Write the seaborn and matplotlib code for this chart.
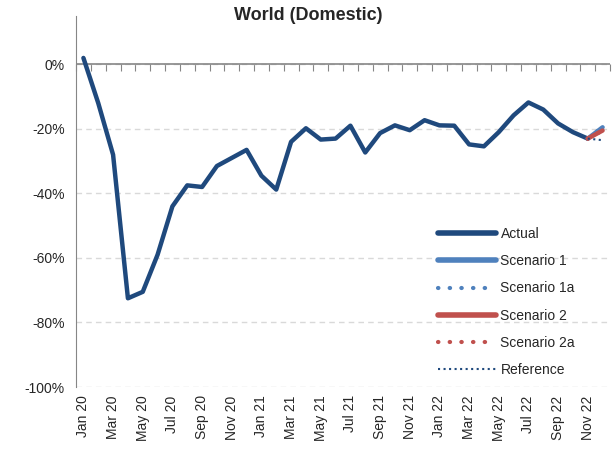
import numpy as np
import pandas as pd
import seaborn as sns
import matplotlib.pyplot as plt

# months Jan 20 .. Dec 22
months = pd.date_range("2020-01-01", "2022-12-01", freq="MS")
month_labels = [d.strftime("%b %y") for d in months]

# % change (Jan 20 .. Nov 22)
actual = [2, -12, -28, -72.5, -70.5, -59, -44, -37.5, -38, -31.5, -29, -26.5,
          -34.5, -38.8, -24, -19.8, -23.3, -23, -19, -27.3, -21.3, -18.9, -20.4, -17.3,
          -18.9, -19, -24.8, -25.4, -21, -15.8, -11.8, -14, -18.3, -21, -23]
# scenarios only cover Nov 22 -> Dec 22
scen1 = [-23, -19.5]
scen1a = [-23, -19.5]
scen2 = [-23, -20.5]
scen2a = [-23, -20.5]
reference = [-23, -23.5]

sns.set_style("white")
plt.rcParams['font.family'] = ['Liberation Sans', 'DejaVu Sans']

navy = "#1F497D"
blue = "#4F81BD"
red = "#C0504D"
gray = "#868686"

x_all = np.arange(len(months))
x_act = x_all[:len(actual)]
x_scn = x_all[-2:]

fig = plt.figure(figsize=(6.16, 4.55), dpi=100)
ax = fig.add_axes([76 / 616, 1 - 387 / 455, (610 - 76) / 616, (387 - 16) / 455])

# horizontal axis line at 0%
ax.axhline(0, color=gray, lw=1.2, zorder=1.5)

sns.lineplot(x=x_act, y=actual, ax=ax, color=navy, lw=3.2, label="Actual", zorder=3)
sns.lineplot(x=x_scn, y=scen1, ax=ax, color=blue, lw=3.2, label="Scenario 1", zorder=3)
sns.lineplot(x=x_scn, y=scen1a, ax=ax, color=blue, lw=3, linestyle=(0, (0.1, 2.7)),
             dash_capstyle="round", label="Scenario 1a", zorder=3)
sns.lineplot(x=x_scn, y=scen2, ax=ax, color=red, lw=3.2, label="Scenario 2", zorder=3)
sns.lineplot(x=x_scn, y=scen2a, ax=ax, color=red, lw=3, linestyle=(0, (0.1, 2.7)),
             dash_capstyle="round", label="Scenario 2a", zorder=3)
sns.lineplot(x=x_scn, y=reference, ax=ax, color=navy, lw=1.5, linestyle=":",
             label="Reference", zorder=3)

ax.set_xlim(-0.5, len(months) - 0.5)
ax.set_ylim(-100, 15)

# y axis
yticks = np.arange(-100, 1, 20)
ax.set_yticks(yticks, labels=[f"{v}%" for v in yticks])
ax.yaxis.grid(True, color="#D9D9D9", linestyle=(0, (4, 3)), lw=1)
ax.tick_params(axis="y", direction="out", length=4, color=gray, labelsize=10, pad=4)
for s in ["top", "right", "bottom"]:
    ax.spines[s].set_visible(False)
ax.spines["left"].set_color(gray)

# x labels at bottom, every second month
ax.set_xticks(x_all[::2], labels=month_labels[::2], rotation=90)
ax.tick_params(axis="x", length=0, labelsize=10, pad=6)

# category tick marks hanging from the 0% line
sec = ax.secondary_xaxis(100 / 115)
sec.set_xticks(np.arange(len(months) + 1) - 0.5, labels=[])
sec.tick_params(direction="in", length=5, color=gray)
for s in sec.spines.values():
    s.set_visible(False)

ax.set_xlabel("")
ax.set_ylabel("")

leg = ax.legend(loc="upper left", bbox_to_anchor=(438 / 616, 1 - 227 / 455),
                bbox_transform=fig.transFigure, frameon=False, fontsize=10,
                handlelength=4.2, handletextpad=0.3, labelspacing=0.95,
                borderpad=0, borderaxespad=0)
for h in leg.get_lines()[:2] + [leg.get_lines()[3]]:
    h.set_linewidth(4)

fig.text(0.5, 1 - 15 / 455, "World (Domestic)", ha="center", va="center",
         fontsize=13, fontweight="bold")

fig.savefig("out.png", dpi=100)
